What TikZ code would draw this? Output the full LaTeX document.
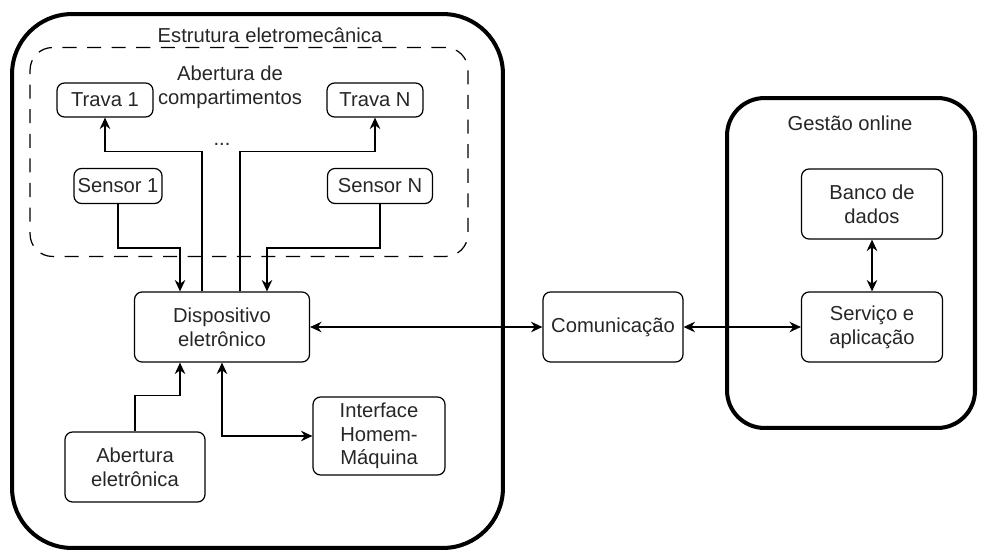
\documentclass[tikz,border=0pt]{standalone}
\usepackage{fontspec}
\setmainfont{Liberation Sans}
\usetikzlibrary{positioning}
\usetikzlibrary{arrows.meta}
\tikzset{x=0.02cm, y=-0.02cm, % one unit is one pixel of the sketch
every node/.style=
    { % text of all the labels
        font=\fontsize{11.5}{13.5}\selectfont,
        text=black!85,
        align=center
    },
    block/.style={ % Sets the properties of each inner block
        draw,
        rounded corners=0.15cm,
        line width=0.7pt,
        inner sep=1pt
    },
    group/.style={ % thick outer containers
        draw,
        line width=2.3pt
    },
    link/.style={ % Sets the properties of each connector
        draw,
        ->,>={Stealth[length=6.5pt,width=6pt]}, % bold filled heads
        line width=0.75pt
    }
}

\begin{document}
\begin{tikzpicture}
    \useasboundingbox (0,0) rectangle (982,551);
    % containers
    \node[group, rounded corners=1.2cm, minimum width=9.82cm, minimum height=10.68cm] (estr) at (257.5,281) {};
    \node (estrtxt) at (270,35) {Estrutura eletromecânica};
    \node[draw, dashed, dash pattern=on 8pt off 6pt, line width=0.7pt, rounded corners=0.45cm,
        minimum width=8.76cm, minimum height=4.18cm] (comp) at (249,152) {};
    \node (comptxt) at (230,87) {Abertura de\\compartimentos};
    \node[group, rounded corners=0.75cm, minimum width=4.96cm, minimum height=6.6cm] (gest) at (851,263) {};
    \node (gesttxt) at (850,123) {Gestão online};

    % blocks
    \node[block, minimum width=1.92cm, minimum height=0.68cm] (trav1) at (105,100) {Trava 1};
    \node[block, minimum width=1.92cm, minimum height=0.68cm] (travN) at (375,100) {Trava N};
    \node (dots) at (222,144) {...};
    \node[block, minimum width=1.76cm, minimum height=0.7cm] (sens1) at (118,186) {Sensor 1};
    \node[block, minimum width=2.1cm, minimum height=0.7cm] (sensN) at (380,186) {Sensor N};
    \node[block, minimum width=3.5cm, minimum height=1.4cm] (disp) at (222,327) {Dispositivo\\eletrônico};
    \node[block, minimum width=2.8cm, minimum height=1.4cm] (abert) at (135,467) {Abertura\\eletrônica};
    \node[block, minimum width=2.64cm, minimum height=1.56cm] (ihm) at (379,436) {Interface\\Homem-\\Máquina};
    \node[block, minimum width=2.8cm, minimum height=1.4cm] (com) at (613,327) {Comunicação};
    \node[block, minimum width=2.82cm, minimum height=1.4cm] (banco) at (872,204) {Banco de\\dados};
    \node[block, minimum width=2.82cm, minimum height=1.4cm] (serv) at (872,327) {Serviço e\\aplicação};

    % connections
    \draw[link] ([xshift=-0.4cm]disp.north) -- ++(0,-140) -| (trav1.south);
    \draw[link] ([xshift=0.36cm]disp.north) -- ++(0,-140) -| (travN.south);
    \draw[link] (sens1.south) -- ++(0,44) -| ([xshift=-0.84cm]disp.north);
    \draw[link] (sensN.south) -- ++(0,44) -| ([xshift=0.9cm]disp.north);
    \draw[link] (abert.north) -- ++(0,-36) -| ([xshift=-0.84cm]disp.south);
    \draw[link, <->] (disp.south) |- (ihm.west);
    \draw[link, <->] (disp.east) -- (com.west);
    \draw[link, <->] (com.east) -- (serv.west);
    \draw[link, <->, line width=1.3pt] (banco.south) -- (serv.north);
\end{tikzpicture}
\end{document}
